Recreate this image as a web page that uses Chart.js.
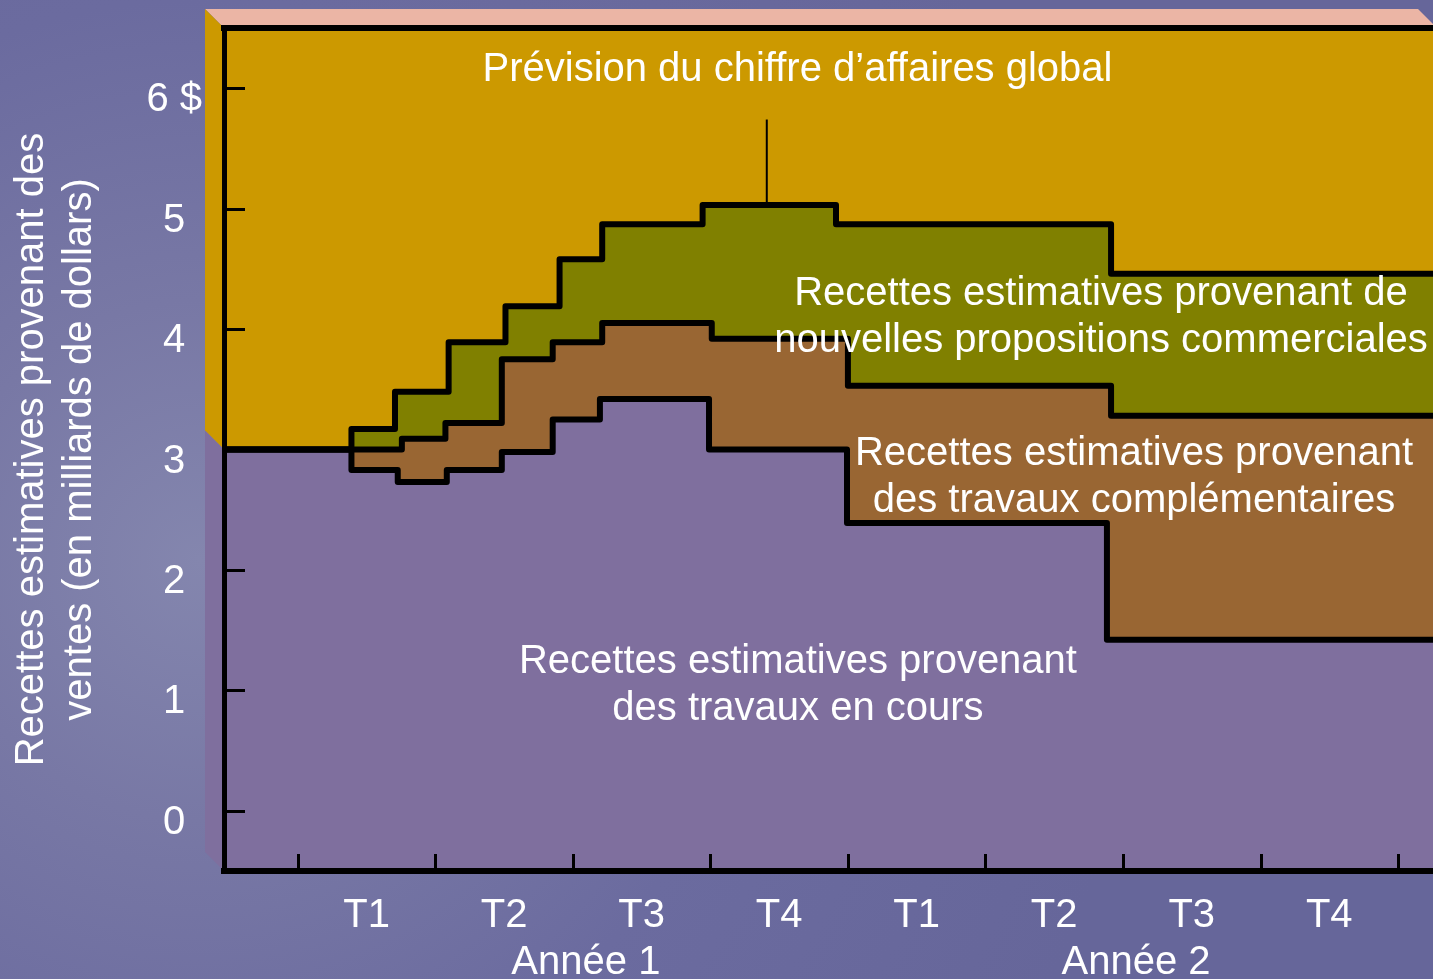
<!DOCTYPE html>
<html lang="fr">
<head>
<meta charset="utf-8">
<title>Prévision du chiffre d'affaires global</title>
<script src="https://cdn.jsdelivr.net/npm/chart.js@4.4.1/dist/chart.umd.min.js"></script>
<style>
    html, body { margin: 0; padding: 0; overflow: hidden; }
    body {
        width: 1433px;
        height: 979px;
        background: radial-gradient(circle at 200px 560px, #8486ae 0px, #7878a5 260px, #6b6b9f 560px, #66669a 950px);
    }
    #wrap { position: relative; width: 1437px; height: 979px; }
</style>
</head>
<body>
<div id="wrap"><canvas id="revenueChart" width="1437" height="979"></canvas></div>
<script>
// ==== DONNÉES ====
// axe horizontal en mois (0 = début de l'année 1), valeurs en milliards $
const quarterLabels = ['T1', 'T2', 'T3', 'T4', 'T1', 'T2', 'T3', 'T4'];
const yearLabels = ['Année 1', 'Année 2'];
const yTickLabels = ['0', '1', '2', '3', '4', '5', '6 $'];

// début de chaque palier (mois) et valeur du palier
const enCoursStarts = [-1.61, 1.17, 2.18, 3.25, 4.45, 5.56, 6.59, 8.97, 11.98, 17.65];
const enCoursValues = [3.0, 2.83, 2.73, 2.83, 2.98, 3.25, 3.42, 3.0, 2.39, 1.42];

const complStarts = [-1.61, 2.27, 3.22, 4.45, 5.56, 6.64, 9.03, 12.0, 17.74];
const complValues = [3.0, 3.09, 3.22, 3.75, 3.89, 4.05, 3.92, 3.53, 3.28];

const propStarts = [-1.61, 1.17, 2.12, 3.29, 4.53, 5.71, 6.64, 8.83, 11.74, 17.74];
const propValues = [3.0, 3.17, 3.48, 3.89, 4.19, 4.58, 4.87, 5.03, 4.87, 4.46];

const peakMonth = 10.23;
const peakValues = [5.03, 5.74];

const X_MIN = -1.61;
const X_MAX = 24.85;

// ==== STYLES ====
const GOLD = '#cc9900';
const OLIVE = '#808000';
const BROWN = '#996633';
const PURPLE = '#7f6f9e';
const PINK = '#ebb5a5';
const FONT_FAMILY = '"Liberation Sans", Arial, sans-serif';

// textes posés dans les zones (centre du bloc, en unités des axes)
const areaLabels = [
    { lines: ['Prévision du chiffre d’affaires global'], x: 10.9, y: 6.155 },
    { lines: ['Recettes estimatives provenant de', 'nouvelles propositions commerciales'], x: 17.52, y: 4.095 },
    { lines: ['Recettes estimatives provenant', 'des travaux complémentaires'], x: 18.24, y: 2.765 },
    { lines: ['Recettes estimatives provenant', 'des travaux en cours'], x: 10.91, y: 1.04 }
];

function stepData(starts, values) {
    const pts = starts.map((x, i) => ({ x: x, y: values[i] }));
    pts.push({ x: X_MAX, y: values[values.length - 1] });
    return pts;
}

// Boîte 3D + fond doré de la zone de tracé
const boxPlugin = {
    id: 'box3d',
    beforeDraw(chart) {
        const ctx = chart.ctx;
        const { left, top, right, bottom } = chart.chartArea;
        const d = 19;
        const y3 = chart.scales.y.getPixelForValue(3);
        ctx.save();
        ctx.fillStyle = PINK;
        ctx.beginPath();
        ctx.moveTo(left, top);
        ctx.lineTo(left - d, top - d);
        ctx.lineTo(right - d, top - d);
        ctx.lineTo(right, top);
        ctx.closePath();
        ctx.fill();

        ctx.fillStyle = GOLD;
        ctx.beginPath();
        ctx.moveTo(left, top);
        ctx.lineTo(left - d, top - d);
        ctx.lineTo(left - d, y3 - d);
        ctx.lineTo(left, y3);
        ctx.closePath();
        ctx.fill();

        ctx.fillStyle = PURPLE;
        ctx.beginPath();
        ctx.moveTo(left, y3);
        ctx.lineTo(left - d, y3 - d);
        ctx.lineTo(left - d, bottom - d);
        ctx.lineTo(left, bottom);
        ctx.closePath();
        ctx.fill();

        ctx.fillStyle = GOLD;
        ctx.fillRect(left, top, right - left, bottom - top);
        ctx.restore();
    },
    afterDraw(chart) {
        const ctx = chart.ctx;
        const { left, top, right, bottom } = chart.chartArea;
        const xs = chart.scales.x;
        const ys = chart.scales.y;
        ctx.save();
        ctx.strokeStyle = '#000';
        ctx.lineCap = 'butt';

        // bord supérieur
        ctx.lineWidth = 6;
        ctx.beginPath();
        ctx.moveTo(left - 3, top);
        ctx.lineTo(right, top);
        ctx.stroke();

        // graduations intérieures
        ctx.lineWidth = 3;
        ctx.beginPath();
        yTickLabels.forEach((_, i) => {
            const py = Math.round(ys.getPixelForValue(i)) + 0.5;
            ctx.moveTo(left, py);
            ctx.lineTo(left + 21, py);
        });
        for (let q = 0; q <= quarterLabels.length; q++) {
            const px = Math.round(xs.getPixelForValue(q * 3)) + 0.5;
            ctx.moveTo(px, bottom);
            ctx.lineTo(px, bottom - 17);
        }
        ctx.stroke();

        // textes des zones
        ctx.fillStyle = '#fff';
        ctx.font = '40px ' + FONT_FAMILY;
        ctx.textAlign = 'center';
        ctx.textBaseline = 'middle';
        const lh = 47;
        areaLabels.forEach(lbl => {
            const cx = xs.getPixelForValue(lbl.x);
            const cy = ys.getPixelForValue(lbl.y);
            const y0 = cy - (lbl.lines.length - 1) * lh / 2;
            lbl.lines.forEach((t, i) => ctx.fillText(t, cx, y0 + i * lh));
        });
        ctx.restore();
    }
};

Chart.defaults.font.family = FONT_FAMILY;
Chart.defaults.font.size = 40;
Chart.defaults.color = '#ffffff';

const lineStyle = {
    stepped: true,
    borderColor: '#000',
    borderWidth: 6,
    borderJoinStyle: 'round',
    pointRadius: 0,
    pointHoverRadius: 0
};

new Chart(document.getElementById('revenueChart'), {
    type: 'line',
    data: {
        datasets: [
            Object.assign({ label: 'Travaux en cours', data: stepData(enCoursStarts, enCoursValues), fill: 'start', backgroundColor: PURPLE }, lineStyle),
            Object.assign({ label: 'Travaux complémentaires', data: stepData(complStarts, complValues), fill: '-1', backgroundColor: BROWN }, lineStyle),
            Object.assign({ label: 'Nouvelles propositions', data: stepData(propStarts, propValues), fill: '-1', backgroundColor: OLIVE }, lineStyle),
            {
                label: 'Sommet',
                data: peakValues.map(v => ({ x: peakMonth, y: v })),
                borderColor: '#000',
                borderWidth: 2,
                fill: false,
                pointRadius: 0
            }
        ]
    },
    options: {
        responsive: false,
        animation: false,
        devicePixelRatio: 1,
        layout: { padding: { top: 28, right: 0, bottom: 0, left: 0 } },
        plugins: {
            legend: { display: false },
            tooltip: { enabled: false },
            filler: { drawTime: 'beforeDatasetsDraw' }
        },
        scales: {
            x: {
                type: 'linear',
                position: 'bottom',
                min: X_MIN,
                max: X_MAX,
                grid: { display: false, drawTicks: false },
                border: { color: '#000', width: 6, z: 1 },
                afterBuildTicks: s => { s.ticks = quarterLabels.map((_, i) => ({ value: 1.5 + 3 * i })); },
                ticks: {
                    autoSkip: false,
                    maxRotation: 0,
                    padding: 21,
                    callback: (v, i) => quarterLabels[i]
                },
                afterFit: s => { s.height = 64; s.paddingLeft = 0; s.paddingRight = 0; }
            },
            x2: {
                type: 'linear',
                position: 'bottom',
                min: X_MIN,
                max: X_MAX,
                grid: { display: false, drawTicks: false },
                border: { display: false },
                afterBuildTicks: s => { s.ticks = yearLabels.map((_, i) => ({ value: 6 + 12 * i })); },
                ticks: {
                    autoSkip: false,
                    maxRotation: 0,
                    padding: 4,
                    labelOffset: 13,
                    callback: (v, i) => yearLabels[i]
                },
                afterFit: s => { s.height = 44; s.paddingLeft = 0; s.paddingRight = 0; }
            },
            y: {
                type: 'linear',
                min: -0.5,
                max: 6.5,
                grid: { display: false, drawTicks: false },
                border: { color: '#000', width: 5, z: 1 },
                afterBuildTicks: s => { s.ticks = yTickLabels.map((_, i) => ({ value: i })); },
                ticks: {
                    padding: 22,
                    crossAlign: 'center',
                    labelOffset: 12,
                    callback: (v, i) => yTickLabels[i]
                },
                title: {
                    display: true,
                    text: ['Recettes estimatives provenant des', 'ventes (en milliards de dollars)'],
                    color: '#fff',
                    font: { size: 40, lineHeight: 1.2 },
                    padding: { top: 8, bottom: 0 }
                },
                afterFit: s => { s.width = 224; s.paddingTop = 0; s.paddingBottom = 0; }
            }
        }
    },
    plugins: [boxPlugin]
});
</script>
</body>
</html>
